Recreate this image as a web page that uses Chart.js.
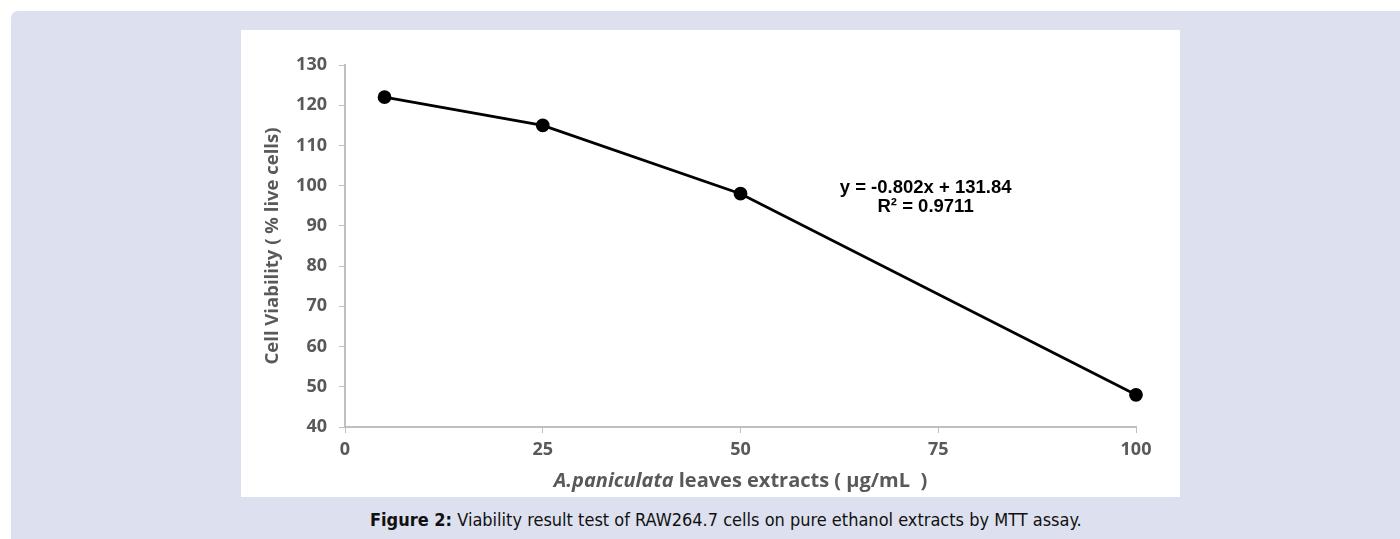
<!DOCTYPE html>
<html>
<head>
<meta charset="utf-8">
<script src="https://cdn.jsdelivr.net/npm/chart.js@4.4.1/dist/chart.umd.min.js"></script>
<style>
  body { margin: 0; background: #fff; width: 1400px; height: 539px; overflow: hidden; position: relative; }
  #panel { position: absolute; left: 11px; top: 11px; width: 1389px; height: 528px; background: #dde0ee; border-top-left-radius: 7px; }
  #box { position: absolute; left: 241px; top: 30px; width: 939px; height: 467px; background: #fff; }
  #caption { position: absolute; left: 370px; top: 509px; white-space: nowrap; font-family: "Liberation Sans Narrow", "DejaVu Sans Condensed", sans-serif; font-size: 18px; color: #111; }
</style>
</head>
<body>
<div id="panel"></div>
<div id="box"><canvas id="chart"></canvas></div>
<div id="caption"><b>Figure 2:</b> Viability result test of RAW264.7 cells on pure ethanol extracts by MTT assay.</div>
<script>
document.addEventListener('DOMContentLoaded', () => {
    // Data
    const concentrations = [5, 25, 50, 100];
    const viability = [122, 115, 98, 48];
    const xTicks = [0, 25, 50, 75, 100];
    const yTicks = [40, 50, 60, 70, 80, 90, 100, 110, 120, 130];

    const trendText = ['y = -0.802x + 131.84', 'R\u00b2 = 0.9711'];
    const trendAnchor = { x: 73.4, y: [99.5, 94.8] };

    const tickColor = '#595959';
    const axisColor = '#bfbfbf';

    // draws the trendline equation and the mixed-style x axis title
    const textPlugin = {
        id: 'extraText',
        afterDraw(chart) {
            const ctx = chart.ctx;
            const xs = chart.scales.x;
            const ys = chart.scales.y;
            ctx.save();
            ctx.fillStyle = '#000';
            ctx.font = 'bold 18.5px "Liberation Sans", Arial, sans-serif';
            ctx.textAlign = 'center';
            ctx.textBaseline = 'middle';
            trendText.forEach((t, i) => {
                ctx.fillText(t, xs.getPixelForValue(trendAnchor.x), ys.getPixelForValue(trendAnchor.y[i]));
            });

            // x axis title: italic species name + plain rest
            const part1 = 'A.paniculata';
            const part2 = ' leaves extracts ( \u00b5g/mL  )';
            const f1 = 'italic bold 20px "Open Sans", sans-serif';
            const f2 = 'bold 20px "Open Sans", sans-serif';
            ctx.font = f1;
            const w1 = ctx.measureText(part1).width;
            ctx.font = f2;
            const w2 = ctx.measureText(part2).width;
            const cx = (chart.chartArea.left + chart.chartArea.right) / 2;
            const startX = cx - (w1 + w2) / 2;
            const ty = 451;
            ctx.fillStyle = tickColor;
            ctx.textAlign = 'left';
            ctx.font = f1;
            ctx.fillText(part1, startX, ty);
            ctx.font = f2;
            ctx.fillText(part2, startX + w1, ty);
            ctx.restore();
        }
    };

    const ctx = document.getElementById('chart').getContext('2d');
    new Chart(ctx, {
        type: 'scatter',
        data: {
            datasets: [{
                data: concentrations.map((c, i) => ({ x: c, y: viability[i] })),
                showLine: true,
                clip: false,
                borderColor: '#000',
                backgroundColor: '#000',
                borderWidth: 2.8,
                pointRadius: 5.5,
                pointHoverRadius: 5.5,
            }]
        },
        options: {
            responsive: true,
            maintainAspectRatio: false,
            animation: false,
            layout: { padding: { top: 35, right: 44, left: 0, bottom: 0 } },
            plugins: { legend: { display: false }, tooltip: { enabled: false } },
            scales: {
                x: {
                    type: 'linear',
                    min: 0,
                    max: 100,
                    afterBuildTicks: (s) => { s.ticks = xTicks.map(v => ({ value: v })); },
                    afterFit: (s) => { s.height = 70; },
                    grid: { drawOnChartArea: false, color: axisColor, tickLength: 6, tickColor: axisColor },
                    border: { color: axisColor, width: 2 },
                    ticks: { color: tickColor, padding: 6, font: { family: 'Open Sans', size: 18, weight: 'bold' } }
                },
                y: {
                    min: 40,
                    max: 130,
                    afterBuildTicks: (s) => { s.ticks = yTicks.map(v => ({ value: v })); },
                    afterFit: (s) => { s.width = 104; },
                    grid: { drawOnChartArea: false, color: axisColor, tickLength: 6, tickColor: axisColor },
                    border: { color: axisColor, width: 2 },
                    ticks: { color: tickColor, padding: 12, font: { family: 'Open Sans', size: 18, weight: 'bold' } },
                    title: {
                        display: true,
                        text: 'Cell Viability ( % live cells)',
                        color: tickColor,
                        padding: { top: 21, bottom: 0 },
                        font: { family: 'Open Sans', size: 18.5, weight: 'bold' }
                    }
                }
            }
        },
        plugins: [textPlugin]
    });
});
</script>
</body>
</html>
